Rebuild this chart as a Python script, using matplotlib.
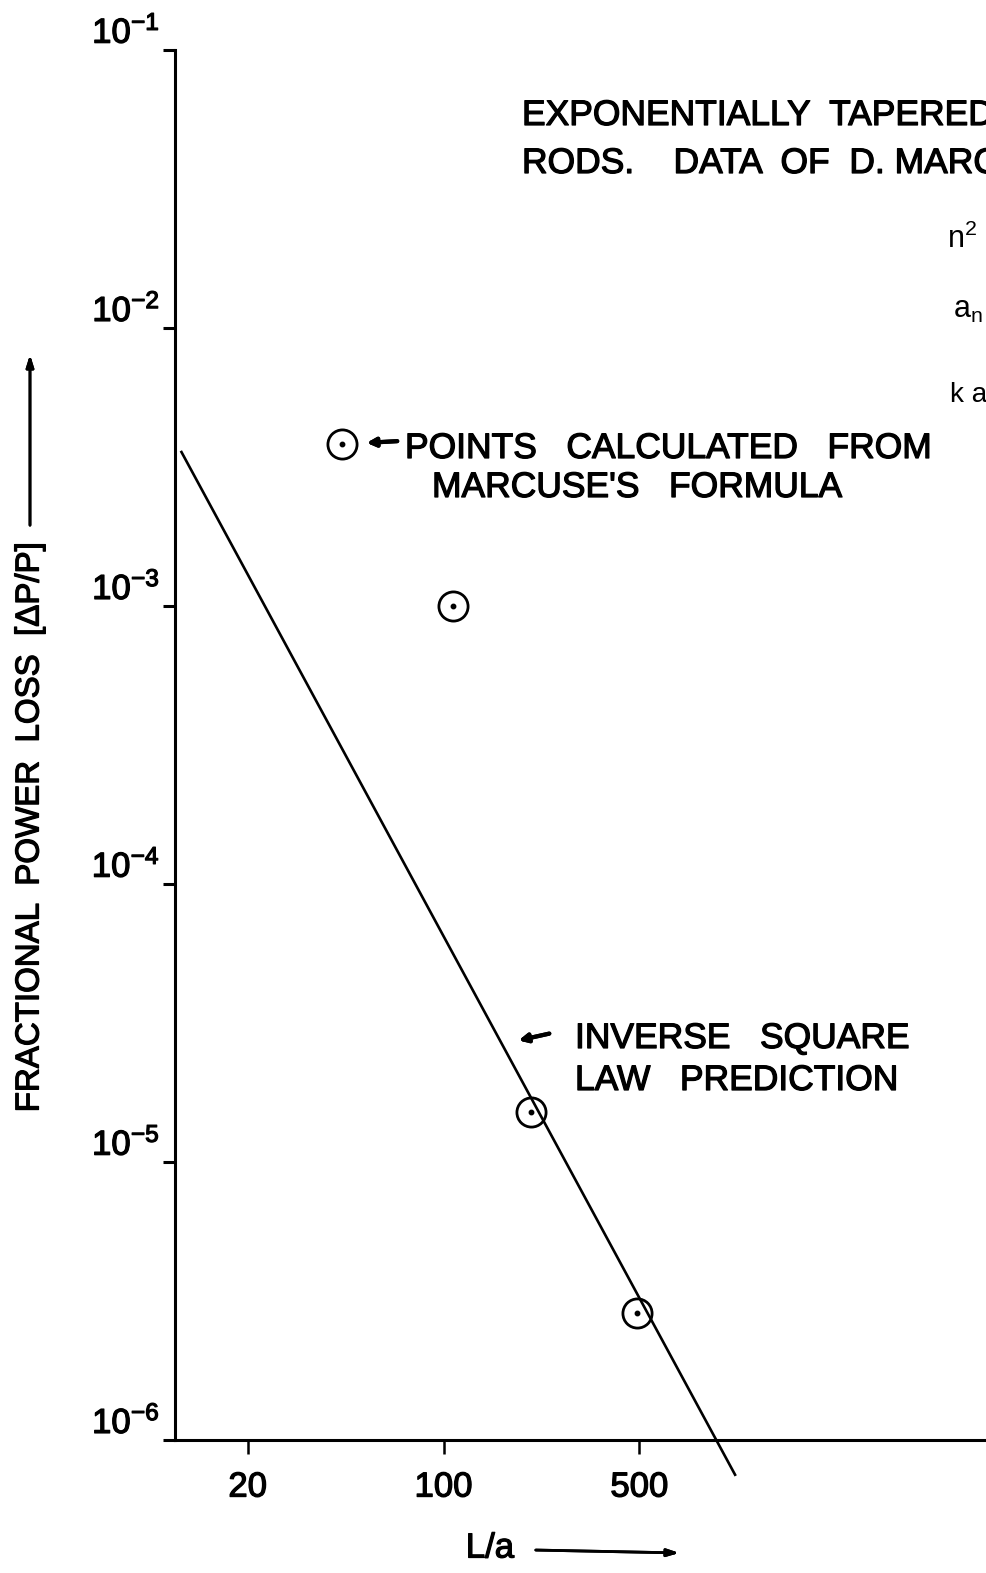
import matplotlib
matplotlib.use("Agg")
import matplotlib.pyplot as plt
import matplotlib.patheffects as pe

plt.rcParams['font.family'] = ['Liberation Sans', 'DejaVu Sans']
plt.rcParams['mathtext.fontset'] = 'custom'
plt.rcParams['mathtext.rm'] = 'Liberation Sans'
plt.rcParams['mathtext.default'] = 'regular'

# inverse square law prediction (straight line on log-log)
law_x = [11.6, 1097]
law_y = [3.58e-3, 7.5e-7]

# points calculated from Marcuse's formula
pts_x = [108, 205, 490]
pts_y = [1.0e-3, 1.51e-5, 2.86e-6]

# key symbol next to the annotation
key_x = [43.4]
key_y = [3.83e-3]

xticks = [20, 100, 500]
xticklabels = ['20', '100', '500']
yticks = [1e-6, 1e-5, 1e-4, 1e-3, 1e-2, 1e-1]
yticklabels = ['$10^{-6}$', '$10^{-5}$', '$10^{-4}$', '$10^{-3}$', '$10^{-2}$', '$10^{-1}$']

W, H = 986, 1573
fig = plt.figure(figsize=(W / 100, H / 100), dpi=100)

def px(x, y):
    return x / W, 1 - y / H

heavy = [pe.withStroke(linewidth=0.9, foreground='black')]

ax = fig.add_axes([175 / W, (H - 1440) / H, 829 / W, 1390 / H])
ax.set_xscale('log')
ax.set_yscale('log')
ax.set_xlim(11, 1e4)
ax.set_ylim(1e-6, 1e-1)

for s in ['top', 'right']:
    ax.spines[s].set_visible(False)
for s in ['left', 'bottom']:
    ax.spines[s].set_linewidth(2.2)

ax.minorticks_off()
ax.set_xticks(xticks)
ax.set_xticklabels(xticklabels)
ax.set_yticks(yticks)
ax.set_yticklabels(yticklabels)
ax.tick_params(axis='x', direction='out', length=10, width=1.8, pad=12, labelsize=25)
ax.tick_params(axis='y', direction='out', length=9, width=2.2, pad=2, labelsize=25)
for lab in ax.get_yticklabels():
    lab.set_verticalalignment('bottom')
    lab.set_path_effects(heavy)
for lab in ax.get_xticklabels():
    lab.set_path_effects(heavy)

ax.plot(law_x, law_y, color='black', lw=1.9, clip_on=False)

ms = 21
ax.plot(pts_x + key_x, pts_y + key_y, 'o', ms=ms, mfc='none', mec='black', mew=2.0, clip_on=False)
ax.plot(pts_x + key_x, pts_y + key_y, 'o', ms=3.2, color='black', clip_on=False)

txt = dict(fontsize=25.5, color='black', va='baseline', ha='left', path_effects=heavy)
fig.text(*px(522, 125), 'EXPONENTIALLY  TAPERED', **txt)
fig.text(*px(522, 173), 'RODS.    DATA  OF  D. MARCUSE', **txt)

fig.text(*px(947, 248), '$n^{2}$', fontsize=22, va='baseline')
fig.text(*px(953, 318), '$a_{n}$', fontsize=22, va='baseline')
fig.text(*px(950, 402), 'k a', fontsize=20, va='baseline')

fig.text(*px(405, 458), 'POINTS   CALCULATED   FROM', **txt)
fig.text(*px(432, 497), "MARCUSE'S   FORMULA", **txt)
fig.text(*px(575, 1048), 'INVERSE   SQUARE', **txt)
fig.text(*px(575, 1090), 'LAW   PREDICTION', **txt)

arrow = dict(arrowstyle='-|>,head_length=0.5,head_width=0.25', color='black', lw=3.0)
fig.add_artist(plt.annotate('', xy=px(364, 443), xytext=px(400, 441),
                            xycoords='figure fraction', arrowprops=arrow))
fig.add_artist(plt.annotate('', xy=px(516, 1041), xytext=px(552, 1033),
                            xycoords='figure fraction', arrowprops=arrow))

# axis titles with arrows
fig.text(*px(30, 828), 'FRACTIONAL  POWER  LOSS  [ΔP/P]', rotation=90,
         fontsize=23.8, ha='center', va='center', path_effects=heavy)
fig.text(*px(490, 1548), 'L/a', fontsize=25, ha='center', va='center', path_effects=heavy)
thin = dict(arrowstyle='-|>,head_length=0.7,head_width=0.22', color='black', lw=2.0)
fig.add_artist(plt.annotate('', xy=px(30, 352), xytext=px(30, 528),
                            xycoords='figure fraction', arrowprops=thin))
fig.add_artist(plt.annotate('', xy=px(682, 1553), xytext=px(533, 1550),
                            xycoords='figure fraction', arrowprops=thin))

fig.savefig('out.png', dpi=100)
